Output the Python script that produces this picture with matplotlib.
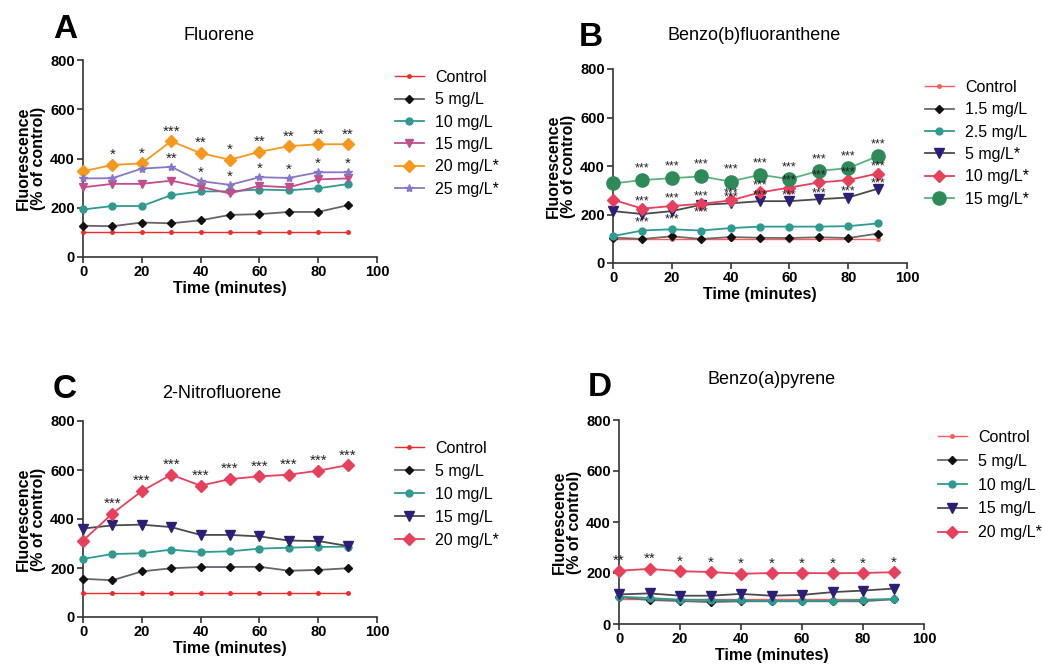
import matplotlib
matplotlib.use("Agg")
import matplotlib.pyplot as plt

plt.rcParams['font.family'] = ['Liberation Sans', 'DejaVu Sans']

# time points (minutes)
time = [0, 10, 20, 30, 40, 50, 60, 70, 80, 90]

# Panel A - Fluorene
a_labels = ['Control', '5 mg/L', '10 mg/L', '15 mg/L', '20 mg/L*', '25 mg/L*']
a_control = [100, 100, 100, 100, 100, 100, 100, 100, 100, 100]
a_5 = [127, 125, 140, 137, 149, 171, 174, 183, 183, 210]
a_10 = [193, 207, 207, 251, 266, 267, 274, 271, 279, 296]
a_15 = [283, 297, 297, 310, 285, 258, 289, 283, 315, 319]
a_20 = [348, 374, 380, 470, 422, 395, 427, 450, 458, 458]
a_25 = [319, 320, 359, 366, 308, 293, 324, 321, 344, 344]
a_sig_20 = ['', '*', '*', '***', '**', '*', '**', '**', '**', '**']
a_sig_25 = ['', '', '', '**', '*', '*', '*', '*', '*', '*']

# Panel B - Benzo(b)fluoranthene
b_labels = ['Control', '1.5 mg/L', '2.5 mg/L', '5 mg/L*', '10 mg/L*', '15 mg/L*']
b_control = [100, 100, 100, 100, 100, 100, 100, 100, 100, 100]
b_1_5 = [105, 99, 110, 99, 107, 104, 103, 106, 103, 121]
b_2_5 = [111, 134, 139, 134, 144, 150, 150, 150, 152, 163]
b_5 = [214, 202, 214, 240, 246, 255, 255, 263, 270, 306]
b_10 = [261, 224, 235, 244, 258, 291, 311, 332, 342, 369]
b_15 = [328, 342, 350, 357, 336, 364, 346, 380, 391, 440]
b_sig_5 = ['', '***', '***', '***', '***', '***', '***', '***', '***', '***']
b_sig_10 = ['', '***', '***', '***', '***', '***', '***', '***', '***', '***']
b_sig_15 = ['', '***', '***', '***', '***', '***', '***', '***', '***', '***']

# Panel C - 2-Nitrofluorene
c_labels = ['Control', '5 mg/L', '10 mg/L', '15 mg/L', '20 mg/L*']
c_control = [100, 100, 100, 100, 100, 100, 100, 100, 100, 100]
c_5 = [156, 150, 186, 199, 204, 204, 205, 189, 192, 199]
c_10 = [237, 257, 260, 275, 265, 268, 279, 283, 286, 287]
c_15 = [361, 374, 377, 367, 335, 335, 329, 312, 310, 290]
c_20 = [312, 422, 514, 581, 536, 563, 574, 581, 597, 620]
c_sig_20 = ['', '***', '***', '***', '***', '***', '***', '***', '***', '***']

# Panel D - Benzo(a)pyrene
d_labels = ['Control', '5 mg/L', '10 mg/L', '15 mg/L', '20 mg/L*']
d_control = [100, 100, 100, 100, 100, 100, 100, 100, 100, 100]
d_5 = [105, 94, 90, 86, 89, 89, 89, 89, 89, 97]
d_10 = [107, 102, 95, 94, 93, 90, 91, 91, 95, 98]
d_15 = [116, 120, 111, 111, 118, 111, 114, 125, 131, 139]
d_20 = [209, 216, 207, 204, 197, 200, 200, 199, 200, 203]
d_sig_20 = ['**', '**', '*', '*', '*', '*', '*', '*', '*', '*']

RED = '#ee2a2a'
LRED = '#ff5a5a'
BLACK = '#111111'
TEAL = '#2f9a90'
MAGENTA = '#c24d8c'
ORANGE = '#f7981d'
PURPLE = '#8877c6'
NAVY = '#2d1e78'
PINK = '#e6405c'
GREEN = '#2e8b57'


def style_axes(ax):
    for s in ['top', 'right']:
        ax.spines[s].set_visible(False)
    for s in ['left', 'bottom']:
        ax.spines[s].set_color('#333333')
        ax.spines[s].set_linewidth(1.2)
    ax.set_xlim(0, 100)
    ax.set_ylim(0, 800)
    ax.set_xticks([0, 20, 40, 60, 80, 100])
    ax.set_yticks([0, 200, 400, 600, 800])
    ax.tick_params(direction='out', length=4, width=1.2, color='#333333',
                   labelsize=10.5, pad=2)
    for lab in ax.get_xticklabels() + ax.get_yticklabels():
        lab.set_fontweight('bold')
    ax.set_xlabel('Time (minutes)', fontsize=11.5, fontweight='bold', labelpad=1)
    ax.set_ylabel('Fluorescence\n(% of control)', fontsize=11.5,
                  fontweight='bold', labelpad=3, linespacing=1.0)


def series(ax, y, label, lc, mc, marker, ms, lw=1.3):
    ax.plot(time, y, color=lc, lw=lw, marker=marker, ms=ms, mfc=mc, mec=mc,
            label=label, clip_on=False, zorder=3)


def stars(ax, y, sig, dy, size=11):
    for x, v, s, d in zip(time, y, sig, dy):
        if s:
            ax.text(x, v + d, s, ha='center', va='center', fontsize=size,
                    color='#222222', zorder=4)


def legend(ax, x, y, spacing):
    ax.legend(loc='upper left', bbox_to_anchor=(x / 1042, 1 - y / 670),
              bbox_transform=fig.transFigure, frameon=False, fontsize=11.5,
              handlelength=1.8, handletextpad=0.7, labelspacing=spacing,
              borderaxespad=0, borderpad=0)


fig = plt.figure(figsize=(10.42, 6.70), dpi=100)

# ---- A
axA = fig.add_axes([83 / 1042, 1 - 257 / 670, 294 / 1042, 197 / 670])
style_axes(axA)
series(axA, a_control, a_labels[0], RED, RED, 'o', 2.5, 1.0)
series(axA, a_5, a_labels[1], '#6a6070', BLACK, 'D', 4.5)
series(axA, a_10, a_labels[2], TEAL, TEAL, 'o', 5)
series(axA, a_15, a_labels[3], MAGENTA, MAGENTA, 'v', 6)
series(axA, a_20, a_labels[4], ORANGE, ORANGE, 'D', 6.5)
series(axA, a_25, a_labels[5], PURPLE, PURPLE, '*', 6)
stars(axA, a_20, a_sig_20, [40] * 10)
stars(axA, a_25, a_sig_25, [34] * 10)
legend(axA, 395, 70, 0.46)
fig.text(65 / 1042, 1 - 30 / 670, 'A', fontsize=24, fontweight='bold',
         ha='center', va='center')
fig.text(219 / 1042, 1 - 36 / 670, 'Fluorene', fontsize=13,
         ha='center', va='center')

# ---- B
axB = fig.add_axes([613 / 1042, 1 - 263 / 670, 294 / 1042, 194 / 670])
style_axes(axB)
series(axB, b_control, b_labels[0], LRED, LRED, 'o', 2.5, 1.0)
series(axB, b_1_5, b_labels[1], '#6a6a6a', BLACK, 'D', 4.5)
series(axB, b_2_5, b_labels[2], TEAL, TEAL, 'o', 5)
series(axB, b_5, b_labels[3], '#4a4a4a', NAVY, 'v', 7)
series(axB, b_10, b_labels[4], PINK, PINK, 'D', 6.5)
series(axB, b_15, b_labels[5], '#5cb27c', GREEN, 'o', 9.5)
stars(axB, b_15, b_sig_15, [48] * 10, 9)
stars(axB, b_10, b_sig_10, [30] * 10, 9)
stars(axB, b_5, b_sig_5, [-34, -34, -34, -30, 24, 24, 24, 24, 24, 24], 9)
legend(axB, 925, 80, 0.46)
fig.text(591 / 1042, 1 - 38 / 670, 'B', fontsize=24, fontweight='bold',
         ha='center', va='center')
fig.text(754 / 1042, 1 - 35 / 670, 'Benzo(b)fluoranthene', fontsize=13,
         ha='center', va='center')

# ---- C
axC = fig.add_axes([83 / 1042, 1 - 617 / 670, 294 / 1042, 196 / 670])
style_axes(axC)
series(axC, c_control, c_labels[0], RED, RED, 'o', 2.5, 1.0)
series(axC, c_5, c_labels[1], '#6a6070', BLACK, 'D', 4.5)
series(axC, c_10, c_labels[2], TEAL, TEAL, 'o', 5)
series(axC, c_15, c_labels[3], '#4a4a4a', NAVY, 'v', 7)
series(axC, c_20, c_labels[4], PINK, PINK, 'D', 6.5)
stars(axC, c_20, c_sig_20, [40] * 10)
legend(axC, 395, 441, 0.5)
fig.text(65 / 1042, 1 - 390 / 670, 'C', fontsize=24, fontweight='bold',
         ha='center', va='center')
fig.text(222 / 1042, 1 - 394 / 670, '2-Nitrofluorene', fontsize=13,
         ha='center', va='center')

# ---- D
axD = fig.add_axes([619 / 1042, 1 - 624 / 670, 305 / 1042, 204 / 670])
style_axes(axD)
series(axD, d_control, d_labels[0], LRED, LRED, 'o', 2.5, 1.0)
series(axD, d_5, d_labels[1], '#6a6a6a', BLACK, 'D', 4.5)
series(axD, d_10, d_labels[2], TEAL, TEAL, 'o', 5)
series(axD, d_15, d_labels[3], '#4a4a4a', NAVY, 'v', 7)
series(axD, d_20, d_labels[4], PINK, PINK, 'D', 6.5)
stars(axD, d_20, d_sig_20, [38] * 10)
legend(axD, 938, 430, 0.55)
fig.text(600 / 1042, 1 - 388 / 670, 'D', fontsize=24, fontweight='bold',
         ha='center', va='center')
fig.text(772 / 1042, 1 - 379 / 670, 'Benzo(a)pyrene', fontsize=13,
         ha='center', va='center')

fig.savefig('out.png', dpi=100)
